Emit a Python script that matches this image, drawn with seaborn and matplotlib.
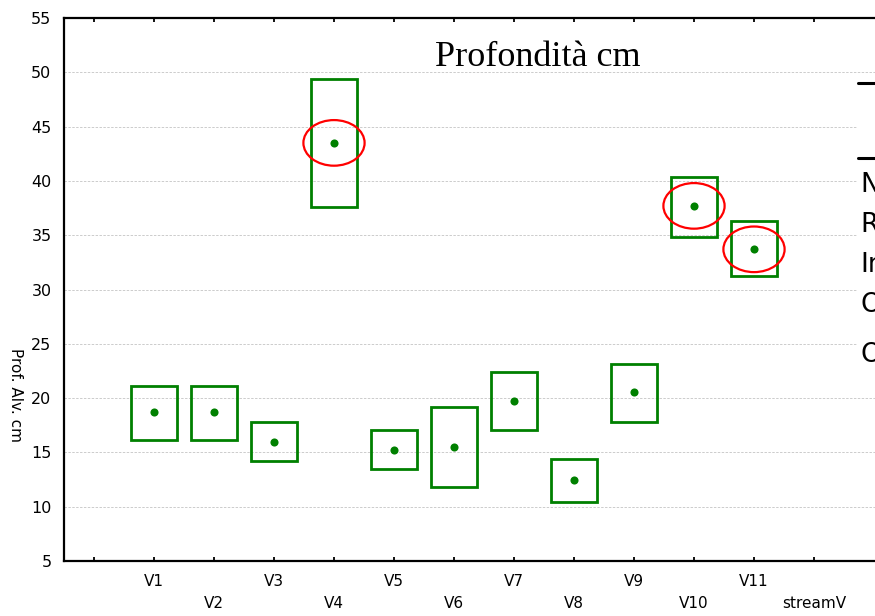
import numpy as np
import pandas as pd
import matplotlib
matplotlib.use("Agg")
import matplotlib.pyplot as plt
from matplotlib.patches import Ellipse, Rectangle
from matplotlib.lines import Line2D
import seaborn as sns

# ---- data ----
categories = ["V1", "V2", "V3", "V4", "V5", "V6", "V7", "V8", "V9", "V10", "V11"]
means = [18.7, 18.7, 16.0, 43.5, 15.2, 15.5, 19.7, 12.5, 20.6, 37.7, 33.7]
upper = [21.1, 21.1, 17.8, 49.4, 17.1, 19.2, 22.4, 14.4, 23.1, 40.4, 36.3]
lower = [16.1, 16.1, 14.2, 37.6, 13.5, 11.8, 17.1, 10.4, 17.8, 34.8, 31.2]
highlighted = ["V4", "V10", "V11"]
y_ticks = [5, 10, 15, 20, 25, 30, 35, 40, 45, 50, 55]
x_axis_label = "streamV"
y_axis_label = "Prof. Alv. cm"
title_text = "Profondità cm"
legend_fragments = ["N", "R", "In", "O", "O"]

df = pd.DataFrame({"cat": categories, "mean": means, "hi": upper, "lo": lower})
df["pos"] = np.arange(1, len(categories) + 1)

sns.set_style("white")
plt.rcParams["font.family"] = ["DejaVu Sans"]
plt.rcParams["text.color"] = "black"
plt.rcParams["axes.labelcolor"] = "black"
plt.rcParams["xtick.color"] = "black"
plt.rcParams["ytick.color"] = "black"

W, H = 875, 616
fig = plt.figure(figsize=(W / 100, H / 100), dpi=100)
# axes extends past the right edge of the figure (clipped like the reference)
left_px, right_px, top_px, bottom_px = 64, 964, 18, 561
ax = fig.add_axes([left_px / W, (H - bottom_px) / H,
                   (right_px - left_px) / W, (bottom_px - top_px) / H])

green = "#008000"
# boxes
ax.bar(df["pos"], df["hi"] - df["lo"], bottom=df["lo"], width=0.78,
       fill=False, edgecolor=green, linewidth=2.0, zorder=3)
# mean points
sns.scatterplot(data=df, x="pos", y="mean", color=green, s=34,
                edgecolor=green, linewidth=0, ax=ax, zorder=4, legend=False)
# red ellipses around highlighted means
for _, r in df[df["cat"].isin(highlighted)].iterrows():
    ax.add_patch(Ellipse((r["pos"], r["mean"]), width=1.02, height=4.2,
                         fill=False, edgecolor="red", linewidth=1.6, zorder=5))

ax.set_xlim(-0.5, 14.5)
ax.set_ylim(5, 55)
ax.set_yticks(y_ticks)
ax.set_yticklabels([str(v) for v in y_ticks], fontsize=11.5, color="black")
ax.tick_params(axis="y", length=0, pad=9)

# alternating x tick labels: odd on major ticks, even (+ axis name) on minor ticks
major_pos = [0] + list(df["pos"][::2])
major_lab = [""] + categories[::2]
minor_pos = list(df["pos"][1::2]) + [12]
minor_lab = categories[1::2] + [x_axis_label]
ax.set_xticks(major_pos)
ax.set_xticklabels(major_lab, fontsize=11, color="black")
ax.set_xticks(minor_pos, minor=True)
ax.set_xticklabels(minor_lab, minor=True, fontsize=11, color="black")
ax.tick_params(axis="x", which="major", direction="in", length=3, width=1.3,
               top=True, bottom=True, pad=9)
ax.tick_params(axis="x", which="minor", direction="in", length=3, width=1.3,
               top=True, bottom=True, pad=25)
ax.set_xlabel("")

# grid
for v in y_ticks[1:-1]:
    ax.axhline(v, color="#cccccc", linestyle=(0, (2.5, 1.5)), linewidth=0.7, zorder=1)

for s in ["left", "bottom", "top", "right"]:
    ax.spines[s].set_color("black")
    ax.spines[s].set_linewidth(1.6)

ax.set_ylabel(y_axis_label, rotation=270, va="center", fontsize=11)
ax.yaxis.set_label_coords((15 - left_px) / (right_px - left_px),
                          (bottom_px - 395) / (bottom_px - top_px))

# title inside plot
fig.text(538 / W, 1 - 57 / H, title_text, fontsize=26, color="black",
         family="Liberation Serif", ha="center", va="center")

# clipped legend fragment on the right edge
fig.patches.append(Rectangle((857 / W, 1 - 378 / H), 30 / W, 300 / H,
                             transform=fig.transFigure, facecolor="white",
                             edgecolor="none", zorder=10))
for ypx in (83, 158):
    fig.lines.append(Line2D([858 / W, 880 / W], [1 - ypx / H, 1 - ypx / H],
                            transform=fig.transFigure, color="black",
                            linewidth=2.2, zorder=11))
for txt, ypx in zip(legend_fragments, [185, 225, 265, 305, 355]):
    fig.text(860 / W, 1 - ypx / H, txt, fontsize=19, ha="left", va="center",
             color="black", zorder=12)

fig.savefig("out.png", dpi=100)
